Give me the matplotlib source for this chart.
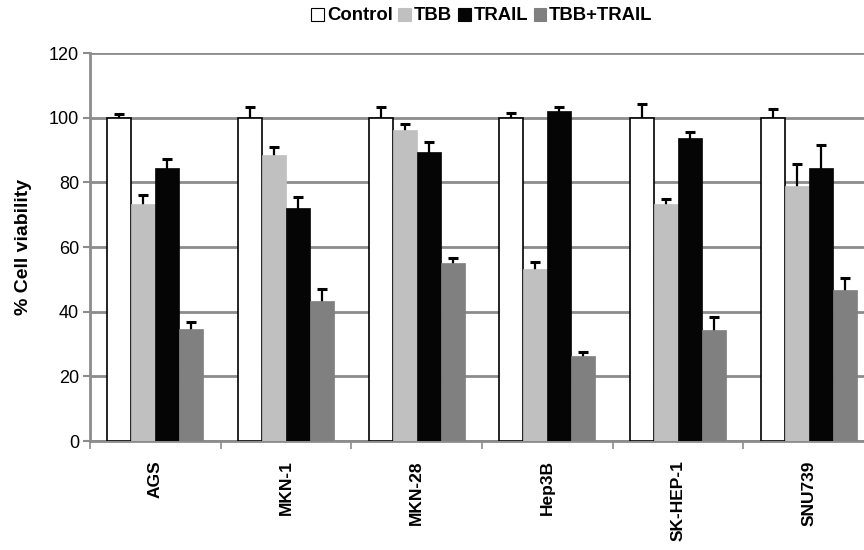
import numpy as np
import matplotlib
matplotlib.use("Agg")
import matplotlib.pyplot as plt
from matplotlib.patches import Patch

plt.rcParams['font.family'] = ['Liberation Sans', 'DejaVu Sans']

# cell lines and treatments
cell_lines = ["AGS", "MKN-1", "MKN-28", "Hep3B", "SK-HEP-1", "SNU739"]
treatments = ["Control", "TBB", "TRAIL", "TBB+TRAIL"]

# mean % viability per treatment (one value per cell line)
control = [100, 100, 100, 100, 100, 100]
tbb = [73.3, 88.5, 96.2, 53.2, 73.3, 78.8]
trail = [84.4, 72.2, 89.4, 102.1, 93.6, 84.3]
tbb_trail = [34.6, 43.3, 55.1, 26.3, 34.3, 46.7]

# upper error (SD)
control_err = [1.2, 3.4, 3.2, 1.3, 4.2, 2.8]
tbb_err = [2.8, 2.5, 1.8, 2.3, 1.4, 7.0]
trail_err = [2.7, 3.4, 3.2, 1.1, 2.1, 7.4]
tbb_trail_err = [2.2, 3.7, 1.6, 1.3, 4.1, 3.8]

means = [control, tbb, trail, tbb_trail]
errs = [control_err, tbb_err, trail_err, tbb_trail_err]
face = ["white", "#c0c0c0", "#050505", "#808080"]
edge = ["black", "#c0c0c0", "#050505", "#808080"]

GRID = "#8c8c8c"

fig = plt.figure(figsize=(8.64, 5.5), dpi=100)
ax = fig.add_axes([90 / 864, 1 - 441 / 550, 784 / 864, 388 / 550])

x = np.arange(len(cell_lines))
w = 0.184
for i in range(4):
    pos = x + (i - 1.5) * w
    ax.bar(pos, means[i], width=w, color=face[i], edgecolor=edge[i],
           linewidth=1.2 if i == 0 else 0.5, zorder=3)
    # symmetric bars drawn behind the columns, so only the upper half shows
    ax.errorbar(pos, means[i], yerr=errs[i], fmt='none',
                ecolor='black', elinewidth=1.6, capsize=3.5, capthick=2.2, zorder=2)

ax.set_xlim(-0.5, len(cell_lines) - 0.5)
ax.set_ylim(0, 120)
ax.set_yticks(np.arange(0, 121, 20))
ax.tick_params(axis='y', length=5, width=1.5, color=GRID, labelsize=13, pad=3)
ax.yaxis.grid(True, color=GRID, linewidth=2, zorder=0)
ax.set_axisbelow(True)

ax.set_xticks(x)
ax.set_xticklabels(cell_lines, rotation=90, fontweight='bold', fontsize=12.5, va='top')
ax.tick_params(axis='x', which='major', length=0, pad=14)
ax.set_xticks(np.arange(-0.5, len(cell_lines)), minor=True)
ax.tick_params(axis='x', which='minor', length=6, width=1.2, color=GRID)

for s in ['top', 'right']:
    ax.spines[s].set_visible(False)
for s in ['left', 'bottom']:
    ax.spines[s].set_color(GRID)
    ax.spines[s].set_linewidth(2)

ax.set_ylabel("% Cell viability", fontweight='bold', fontsize=14)
ax.yaxis.set_label_coords(-0.074, 0.5)

handles = [Patch(facecolor=face[i], edgecolor='black' if i == 0 else face[i],
                 linewidth=0.8) for i in range(4)]
fig.legend(handles, treatments, loc='center', bbox_to_anchor=(482 / 864, 1 - 16 / 550),
           ncol=4, frameon=False, handlelength=0.7, handleheight=0.7,
           handletextpad=0.15, columnspacing=0.3, prop={'weight': 'bold', 'size': 13.3})

fig.savefig("out.png", dpi=100)
